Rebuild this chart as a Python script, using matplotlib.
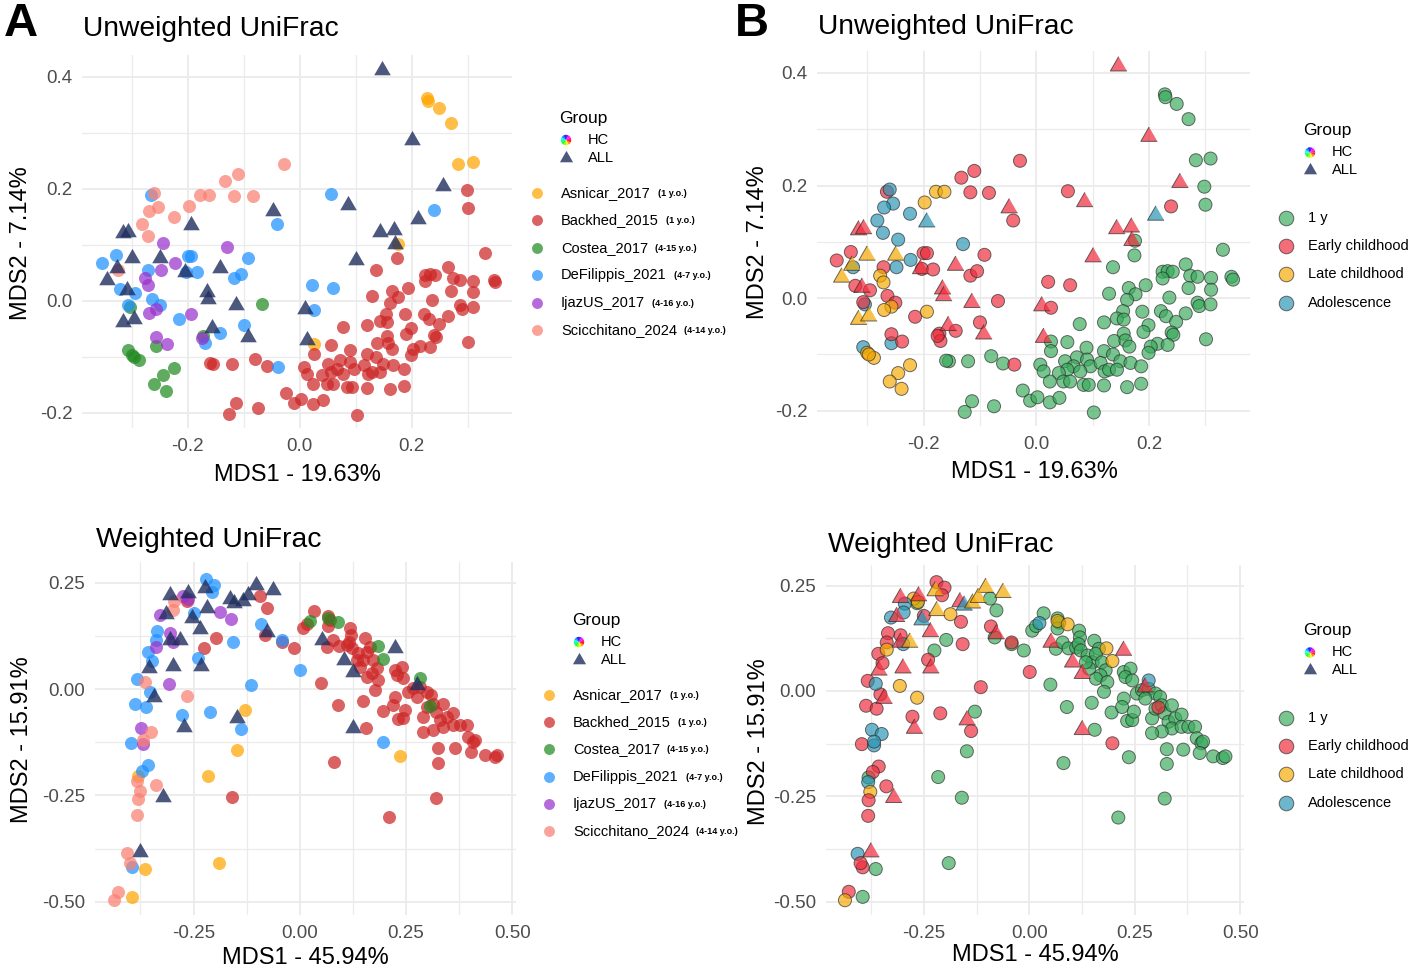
import numpy as np
import matplotlib
matplotlib.use("Agg")
import matplotlib.pyplot as plt
from matplotlib.patches import Wedge
from matplotlib.ticker import FixedLocator

plt.rcParams['font.family'] = ['Liberation Sans', 'DejaVu Sans']

# ---------------- categories ----------------
STUDIES = ["Asnicar_2017", "Backhed_2015", "Costea_2017", "DeFilippis_2021", "IjazUS_2017", "Scicchitano_2024"]
STUDY_AGE_TEXT = ["(1 y.o.)", "(1 y.o.)", "(4-15 y.o.)", "(4-7 y.o.)", "(4-16 y.o.)", "(4-14 y.o.)"]
STUDY_COLORS = ["#FFA500", "#CD2626", "#228B22", "#1E90FF", "#9932CC", "#FA8072"]
ALL_COLOR = "#1F2E5E"
AGE_GROUPS = ["1 y", "Early childhood", "Late childhood", "Adolescence"]
AGE_CODES = ["Y", "E", "L", "A"]
AGE_COLORS = ["#38AA5B", "#EE2A3A", "#F5A800", "#2894B4"]

# ---------------- Unweighted UniFrac (MDS1, MDS2) ----------------
unw_asnicar = [(0.228, 0.362), (0.229, 0.357), (0.249, 0.345), (0.270, 0.318), (0.283, 0.245),
               (0.309, 0.248), (0.175, 0.102), (0.026, -0.077)]
unw_asnicar_age = "YYYYYYYY"
unw_backhed = [(0.298, 0.198), (0.300, 0.166), (0.331, 0.086), (0.174, 0.076), (0.136, 0.055),
               (0.265, 0.060), (0.224, 0.047), (0.233, 0.048), (0.242, 0.047), (0.224, 0.035),
               (0.273, 0.040), (0.286, 0.038), (0.310, 0.036), (0.346, 0.038), (0.349, 0.033),
               (0.164, 0.018), (0.194, 0.023), (0.129, 0.008), (0.176, 0.007), (0.161, -0.003),
               (0.270, 0.018), (0.310, 0.015), (0.236, 0.001), (0.286, -0.008), (0.289, -0.014),
               (0.309, -0.011), (0.154, -0.023), (0.188, -0.024), (0.221, -0.023), (0.230, -0.032),
               (0.265, -0.027), (0.248, -0.042), (0.120, -0.043), (0.143, -0.036), (0.155, -0.038),
               (0.199, -0.048), (0.190, -0.060), (0.077, -0.046), (0.155, -0.063), (0.138, -0.076),
               (0.158, -0.075), (0.165, -0.086), (0.240, -0.061), (0.243, -0.065), (0.215, -0.081),
               (0.233, -0.083), (0.203, -0.086), (0.199, -0.097), (0.301, -0.073), (0.055, -0.078),
               (0.089, -0.088), (0.026, -0.094), (0.120, -0.094), (0.136, -0.100), (0.149, -0.112),
               (0.167, -0.115), (0.186, -0.121), (0.072, -0.105), (0.051, -0.112), (0.066, -0.121),
               (0.055, -0.127), (0.040, -0.133), (0.090, -0.109), (0.096, -0.121), (0.078, -0.130),
               (0.007, -0.118), (0.013, -0.130), (0.114, -0.115), (0.121, -0.130), (0.129, -0.127),
               (0.143, -0.127), (0.024, -0.148), (0.048, -0.148), (0.060, -0.148), (0.084, -0.154),
               (0.093, -0.154), (0.120, -0.155), (0.161, -0.158), (0.186, -0.152), (-0.080, -0.103),
               (-0.059, -0.116), (-0.155, -0.112), (-0.160, -0.111), (-0.121, -0.112), (-0.024, -0.164),
               (-0.011, -0.182), (0.002, -0.176), (0.024, -0.185), (0.041, -0.177), (-0.114, -0.183),
               (-0.127, -0.202), (-0.075, -0.192), (0.102, -0.203)]
unw_backhed_age = "Y" * len(unw_backhed)
unw_costea = [(-0.068, -0.005), (-0.304, -0.011), (-0.172, -0.063), (-0.257, -0.080), (-0.307, -0.087),
              (-0.300, -0.097), (-0.288, -0.106), (-0.297, -0.100), (-0.224, -0.119), (-0.245, -0.133),
              (-0.260, -0.148), (-0.239, -0.161)]
unw_costea_age = "EAEAALLLLLLL"
unw_defilippis = [(-0.265, 0.189), (-0.041, 0.138), (0.056, 0.190), (0.239, 0.163), (-0.354, 0.067),
                  (-0.329, 0.082), (-0.271, 0.055), (-0.200, 0.080), (-0.194, 0.080), (-0.203, 0.052),
                  (-0.183, 0.051), (-0.092, 0.077), (-0.117, 0.040), (-0.105, 0.048), (-0.321, 0.022),
                  (-0.295, 0.014), (-0.264, 0.004), (-0.250, -0.008), (-0.307, -0.007), (-0.215, -0.033),
                  (-0.100, -0.043), (-0.143, -0.058), (-0.170, -0.076), (0.021, 0.029), (0.060, 0.023),
                  (0.026, -0.017), (-0.039, -0.118)]
unw_defilippis_age = "E" * len(unw_defilippis)
unw_ijazus = [(-0.245, 0.104), (-0.130, 0.096), (-0.223, 0.068), (-0.248, 0.055), (-0.277, 0.040),
              (-0.271, 0.028), (-0.257, -0.015), (-0.270, -0.021), (-0.194, -0.024), (-0.257, -0.064),
              (-0.238, -0.077), (-0.175, -0.067)]
unw_ijazus_age = "AAAALLLLLEEE"
unw_scicchitano = [(-0.260, 0.193), (-0.254, 0.168), (-0.270, 0.161), (-0.282, 0.138), (-0.272, 0.116),
                   (-0.224, 0.150), (-0.198, 0.170), (-0.178, 0.189), (-0.163, 0.189), (-0.133, 0.214),
                   (-0.110, 0.226), (-0.117, 0.188), (-0.084, 0.187), (-0.029, 0.244), (-0.325, 0.055)]
unw_scicchitano_age = "AAAAAALLLEEEEEA"
unw_all = [(0.146, 0.412), (0.200, 0.287), (0.255, 0.205), (0.086, 0.171), (0.212, 0.147),
           (0.143, 0.123), (0.169, 0.126), (0.170, 0.102), (0.101, 0.073), (-0.048, 0.160),
           (-0.194, 0.135), (-0.315, 0.121), (-0.306, 0.123), (-0.300, 0.076), (-0.249, 0.076),
           (-0.327, 0.058), (-0.345, 0.037), (-0.309, 0.019), (-0.315, -0.038), (-0.297, -0.032),
           (-0.143, 0.058), (-0.166, 0.016), (-0.164, 0.004), (-0.205, 0.052), (-0.114, -0.008),
           (-0.156, -0.049), (-0.093, -0.064), (0.010, -0.014), (0.013, -0.070)]
unw_all_age = "EEEEAEEEEEAEELLLLELLEEEEEEEEE"

# ---------------- Weighted UniFrac (MDS1, MDS2) ----------------
w_asnicar = [(-0.381, -0.205), (-0.364, -0.422), (-0.395, -0.488), (-0.216, -0.204), (-0.191, -0.408),
             (-0.148, -0.143), (-0.129, -0.049), (0.236, -0.157)]
w_asnicar_age = "YYYYYYYY"
w_backhed = [(-0.093, 0.219), (-0.078, 0.191), (-0.082, 0.127), (-0.197, 0.121), (-0.225, 0.096),
             (-0.042, 0.111), (-0.013, 0.096), (-0.266, 0.208), (0.034, 0.184), (0.007, 0.143),
             (0.016, 0.154), (0.067, 0.172), (0.071, 0.162), (0.067, 0.148), (0.050, 0.015),
             (0.089, -0.038), (0.081, -0.171), (-0.160, -0.253), (0.211, -0.300), (0.321, -0.255),
             (0.326, -0.173), (0.326, -0.138), (0.365, -0.139), (0.155, -0.092), (0.148, -0.028),
             (0.195, -0.051), (0.063, 0.100), (0.079, 0.115), (0.093, 0.101), (0.111, 0.103),
             (0.118, 0.143), (0.120, 0.127), (0.117, 0.111), (0.122, 0.096), (0.138, 0.084),
             (0.150, 0.068), (0.154, 0.119), (0.165, 0.100), (0.158, 0.088), (0.172, 0.068),
             (0.181, 0.049), (0.169, 0.037), (0.158, 0.029), (0.185, 0.021), (0.177, -0.002),
             (0.142, 0.053), (0.134, 0.068), (0.224, 0.045), (0.240, 0.053), (0.228, 0.033),
             (0.244, 0.025), (0.255, -0.006), (0.267, 0.002), (0.283, 0.005), (0.299, -0.006),
             (0.275, -0.018), (0.224, -0.018), (0.220, -0.038), (0.232, -0.071), (0.244, -0.069),
             (0.248, -0.049), (0.291, -0.065), (0.299, -0.042), (0.310, -0.014), (0.314, -0.034),
             (0.321, -0.053), (0.330, -0.073), (0.338, -0.034), (0.346, -0.065), (0.338, -0.089),
             (0.314, -0.096), (0.291, -0.100), (0.361, -0.056), (0.361, -0.085), (0.377, -0.085),
             (0.393, -0.085), (0.397, -0.112), (0.408, -0.124), (0.412, -0.120), (0.404, -0.147),
             (0.436, -0.155), (0.459, -0.159), (0.465, -0.155)]
w_backhed_age = "Y" * len(w_backhed)
w_costea = [(0.024, 0.161), (0.067, 0.166), (0.091, 0.158), (0.183, 0.101), (0.197, 0.071),
            (0.283, 0.025), (0.306, -0.039)]
w_costea_age = "ALLLLAE"
w_defilippis = [(-0.220, 0.258), (-0.201, 0.245), (-0.207, 0.227), (-0.250, 0.178), (-0.335, 0.137),
                (-0.338, 0.115), (-0.358, 0.088), (-0.348, 0.066), (-0.158, 0.111), (-0.091, 0.153),
                (-0.042, 0.115), (-0.240, 0.074), (-0.383, 0.024), (-0.353, -0.008), (-0.387, -0.035),
                (-0.362, -0.042), (0.001, 0.045), (-0.115, 0.009), (-0.277, -0.061), (-0.211, -0.053),
                (-0.138, -0.095), (-0.397, -0.126), (-0.357, -0.179), (-0.371, -0.192), (-0.395, -0.418),
                (0.197, -0.124)]
w_defilippis_age = "E" * len(w_defilippis)
w_ijazus = [(-0.274, 0.219), (-0.264, 0.211), (-0.328, 0.174), (-0.187, 0.182), (-0.162, 0.164),
            (-0.305, 0.132), (-0.299, 0.111), (-0.338, 0.098), (-0.307, 0.012), (-0.373, -0.092),
            (-0.368, -0.129)]
w_ijazus_age = "LLALEEALLAA"
w_scicchitano = [(-0.295, 0.207), (-0.298, 0.186), (-0.364, 0.017), (-0.266, -0.016), (-0.350, -0.102),
                 (-0.368, -0.120), (-0.382, -0.216), (-0.377, -0.239), (-0.381, -0.259), (-0.339, -0.226),
                 (-0.382, -0.296), (-0.407, -0.386), (-0.400, -0.408), (-0.428, -0.476), (-0.437, -0.496)]
w_scicchitano_age = "AAALAAALEEEAEEL"
w_all = [(-0.305, 0.221), (-0.262, 0.225), (-0.223, 0.237), (-0.103, 0.245), (-0.062, 0.233),
         (-0.164, 0.211), (-0.154, 0.203), (-0.134, 0.208), (-0.121, 0.221), (-0.314, 0.176),
         (-0.254, 0.168), (-0.219, 0.190), (-0.234, 0.140), (-0.305, 0.115), (-0.283, 0.115),
         (-0.078, 0.135), (0.052, 0.115), (-0.356, 0.049), (-0.299, 0.054), (-0.233, 0.054),
         (-0.344, -0.018), (0.103, 0.068), (0.126, 0.041), (0.224, 0.096), (-0.147, -0.069),
         (-0.272, -0.089), (0.126, -0.092), (-0.321, -0.253), (-0.375, -0.382), (0.275, 0.009)]
w_all_age = "EELLLEALLEALEELEEEEEEEEEEEEEEE"

UNW_HC = [unw_asnicar, unw_backhed, unw_costea, unw_defilippis, unw_ijazus, unw_scicchitano]
UNW_HC_AGE = [unw_asnicar_age, unw_backhed_age, unw_costea_age, unw_defilippis_age, unw_ijazus_age, unw_scicchitano_age]
W_HC = [w_asnicar, w_backhed, w_costea, w_defilippis, w_ijazus, w_scicchitano]
W_HC_AGE = [w_asnicar_age, w_backhed_age, w_costea_age, w_defilippis_age, w_ijazus_age, w_scicchitano_age]

# ---------------- figure & layout ----------------
W, H = 1411, 971
fig = plt.figure(figsize=(W / 100, H / 100), dpi=100)
TRI = [(0, 1), (-0.866, -0.5), (0.866, -0.5)]
GRID = "#EBEBEB"
TICKC = "#4D4D4D"


def add_ax(l, r, t, b):
    return fig.add_axes([l / W, 1 - b / H, (r - l) / W, (b - t) / H])


def style_ax(ax, xlim, ylim, xmaj, xmin, ymaj, ymin, xlab, ylab):
    ax.set_xlim(*xlim)
    ax.set_ylim(*ylim)
    ax.xaxis.set_major_locator(FixedLocator(xmaj))
    ax.xaxis.set_minor_locator(FixedLocator(xmin))
    ax.yaxis.set_major_locator(FixedLocator(ymaj))
    ax.yaxis.set_minor_locator(FixedLocator(ymin))
    ax.set_xticklabels(xlab)
    ax.set_yticklabels(ylab)
    ax.grid(True, which="major", color=GRID, lw=1.3, zorder=0)
    ax.grid(True, which="minor", color=GRID, lw=0.9, zorder=0)
    ax.set_axisbelow(True)
    for s in ax.spines.values():
        s.set_visible(False)
    ax.tick_params(which="both", length=0, labelsize=13.5, labelcolor=TICKC, pad=7)


def draw_points(ax, hc_sets, hc_ages, all_pts, all_age, mode):
    for i, pts in enumerate(hc_sets):
        xs = [p[0] for p in pts]
        ys = [p[1] for p in pts]
        if mode == "study":
            ax.scatter(xs, ys, s=88, c=STUDY_COLORS[i], alpha=0.72, linewidths=0, zorder=3)
        else:
            cols = [AGE_COLORS[AGE_CODES.index(a)] for a in hc_ages[i]]
            ax.scatter(xs, ys, s=88, c=cols, alpha=0.68, edgecolors="#2B2B2B",
                       linewidths=0.7, zorder=3)
    xs = [p[0] for p in all_pts]
    ys = [p[1] for p in all_pts]
    if mode == "study":
        ax.scatter(xs, ys, s=190, marker=TRI, c=ALL_COLOR, alpha=0.8, linewidths=0, zorder=4)
    else:
        cols = [AGE_COLORS[AGE_CODES.index(a)] for a in all_age]
        ax.scatter(xs, ys, s=190, marker=TRI, c=cols, alpha=0.7, edgecolors="#2B2B2B",
                   linewidths=0.7, zorder=4)


UNW_LIM = ((-0.389, 0.379), (-0.227, 0.439))
W_LIM = ((-0.482, 0.509), (-0.531, 0.2986))
unw_ticks = ([-0.2, 0.0, 0.2], [-0.3, -0.1, 0.1, 0.3], [-0.2, 0.0, 0.2, 0.4], [-0.1, 0.1, 0.3],
             ["-0.2", "0.0", "0.2"], ["-0.2", "0.0", "0.2", "0.4"])
w_ticks = ([-0.25, 0.0, 0.25, 0.5], [-0.375, -0.125, 0.125, 0.375], [-0.5, -0.25, 0.0, 0.25],
           [-0.375, -0.125, 0.125], ["-0.25", "0.00", "0.25", "0.50"], ["-0.50", "-0.25", "0.00", "0.25"])

panels = [
    (add_ax(82, 512, 55, 428), UNW_LIM, unw_ticks, UNW_HC, UNW_HC_AGE, unw_all, unw_all_age, "study"),
    (add_ax(817, 1250, 51, 426), UNW_LIM, unw_ticks, UNW_HC, UNW_HC_AGE, unw_all, unw_all_age, "age"),
    (add_ax(95, 516, 562, 915), W_LIM, w_ticks, W_HC, W_HC_AGE, w_all, w_all_age, "study"),
    (add_ax(826, 1244, 565, 915), W_LIM, w_ticks, W_HC, W_HC_AGE, w_all, w_all_age, "age"),
]
for ax, lim, tk, hc, hca, al, ala, mode in panels:
    style_ax(ax, lim[0], lim[1], tk[0], tk[1], tk[2], tk[3], tk[4], tk[5])
    draw_points(ax, hc, hca, al, ala, mode)


def ftext(x, y, s, **kw):
    fig.text(x / W, 1 - y / H, s, **kw)


# panel letters and titles
ftext(4, 24, "A", fontsize=34, fontweight="bold", va="center", ha="left")
ftext(735, 24, "B", fontsize=34, fontweight="bold", va="center", ha="left")
ftext(83, 36, "Unweighted UniFrac", fontsize=20.3, va="baseline", ha="left")
ftext(818, 34, "Unweighted UniFrac", fontsize=20.3, va="baseline", ha="left")
ftext(96, 547, "Weighted UniFrac", fontsize=20.3, va="baseline", ha="left")
ftext(828, 552, "Weighted UniFrac", fontsize=20.3, va="baseline", ha="left")

# axis labels
ftext(297, 475, "MDS1 - 19.63%", fontsize=17, ha="center", va="center")
ftext(21, 243, "MDS2 - 7.14%", fontsize=17, ha="center", va="center", rotation=90)
ftext(1034, 472, "MDS1 - 19.63%", fontsize=17, ha="center", va="center")
ftext(758, 242, "MDS2 - 7.14%", fontsize=17, ha="center", va="center", rotation=90)
ftext(305, 958, "MDS1 - 45.94%", fontsize=17, ha="center", va="center")
ftext(22, 740, "MDS2 - 15.91%", fontsize=17, ha="center", va="center", rotation=90)
ftext(1035, 955, "MDS1 - 45.94%", fontsize=17, ha="center", va="center")
ftext(759, 742, "MDS2 - 15.91%", fontsize=17, ha="center", va="center", rotation=90)

# ---------------- legends (overlay in pixel space) ----------------
ov = fig.add_axes([0, 0, 1, 1], zorder=10)
ov.set_xlim(0, W)
ov.set_ylim(H, 0)
ov.axis("off")
ov.patch.set_alpha(0)

rainbow = plt.get_cmap("hsv")


def rainbow_dot(x, y, r):
    n = 12
    for k in range(n):
        ov.add_patch(Wedge((x, y), r, 360 * k / n, 360 * (k + 1) / n,
                           facecolor=rainbow(k / n), edgecolor="none", alpha=0.9))


def group_block(gx, gy, hc_dy, all_dy):
    ov.text(gx, gy, "Group", fontsize=12.5, ha="left", va="center")
    rainbow_dot(gx + 7, gy + hc_dy, 5.2)
    ov.text(gx + 29, gy + hc_dy, "HC", fontsize=10.5, ha="left", va="center")
    ov.scatter([gx + 7], [gy + all_dy], s=120, marker=TRI, c=ALL_COLOR, alpha=0.8, linewidths=0)
    ov.text(gx + 29, gy + all_dy, "ALL", fontsize=10.5, ha="left", va="center")


def study_legend(gx, gy, mx, tx, y0, step):
    group_block(gx, gy, 22, 40.5)
    for i, name in enumerate(STUDIES):
        y = y0 + i * step
        ov.scatter([mx], [y], s=62, c=STUDY_COLORS[i], alpha=0.72, linewidths=0)
        t = ov.text(tx, y, name, fontsize=10.5, ha="left", va="center")
        ov.annotate(STUDY_AGE_TEXT[i], xy=(1, 0), xycoords=t, xytext=(5, 1.5),
                    textcoords="offset points", fontsize=6.5, fontweight="bold",
                    ha="left", va="bottom")


def age_legend(gx, gy, mx, tx, y0, step):
    group_block(gx, gy, 21.5, 39)
    for i, name in enumerate(AGE_GROUPS):
        y = y0 + i * step
        ov.scatter([mx], [y], s=110, c=AGE_COLORS[i], alpha=0.68, edgecolors="#2B2B2B", linewidths=0.7)
        ov.text(tx, y, name, fontsize=10.5, ha="left", va="center")


study_legend(559, 118, 537, 561, 193, 27.4)
study_legend(572, 620, 549, 573, 695, 27.2)
age_legend(1303, 131, 1286, 1308, 218, 28.2)
age_legend(1303, 631, 1286, 1308, 718, 28.2)

fig.savefig("out.png", dpi=100)
